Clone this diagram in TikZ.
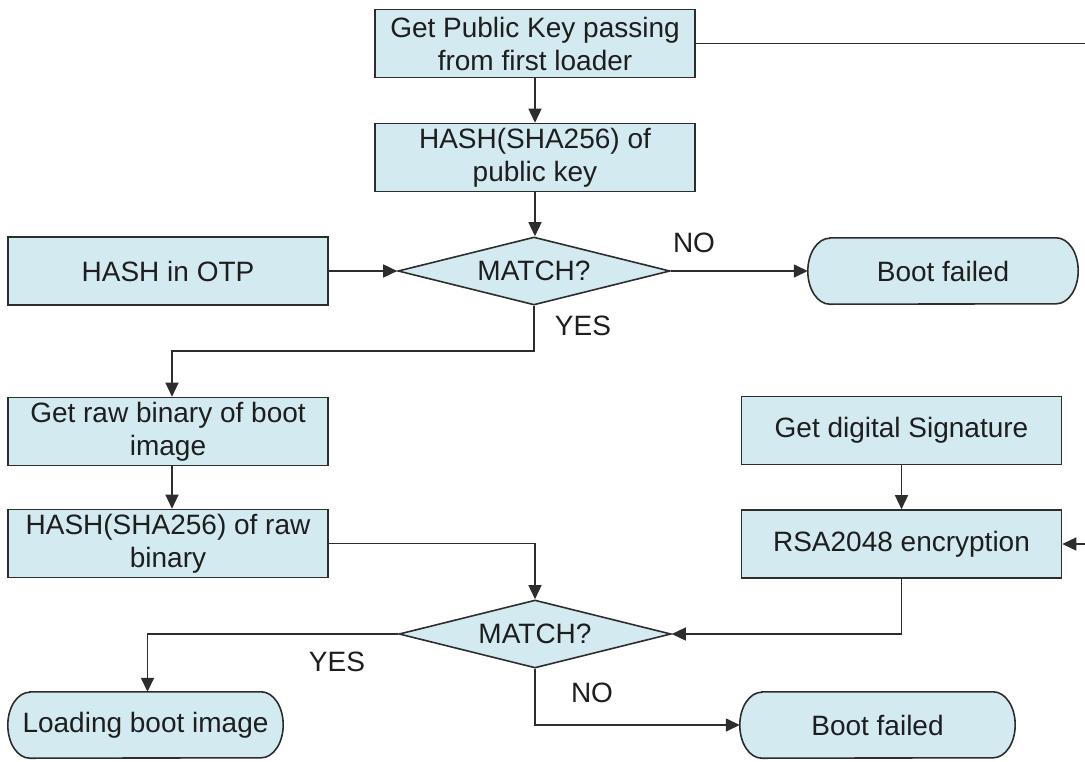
\documentclass[tikz,border=0pt]{standalone}
\usepackage{fontspec}
\setmainfont{Liberation Sans}
\usetikzlibrary{shapes.geometric,arrows.meta,backgrounds}
\definecolor{boxfill}{RGB}{210,234,240}
\definecolor{edge}{RGB}{45,45,45}
\definecolor{ink}{RGB}{30,30,30}
\tikzset{
  every node/.style={font=\fontsize{28}{33}\selectfont, text=ink},
  stepbox/.style={rectangle, draw=edge, fill=boxfill, line width=1.6pt,
    minimum width=320pt, minimum height=68pt, inner sep=0pt, align=center},
  decision/.style={diamond, aspect=4, draw=edge, fill=boxfill, line width=1.6pt,
    minimum width=272pt, minimum height=68pt, inner sep=0pt},
  termtext/.style={rectangle, draw=none, minimum height=66pt, inner sep=0pt},
  termshape/.style={draw=edge, fill=boxfill, line width=1.6pt},
  flow/.style={draw=edge, line width=1.5pt},
  arrow/.style={flow, -{Triangle[length=14pt,width=13pt]}},
  lbl/.style={inner sep=0pt}
}
% terminator with elliptical ends behind a named text node
\newcommand{\termback}[1]{%
  \path[termshape] ([xshift=22pt]#1.north west) -- ([xshift=-22pt]#1.north east)
    arc[start angle=90,end angle=-90,x radius=22pt,y radius=33pt]
    -- ([xshift=22pt]#1.south west)
    arc[start angle=270,end angle=90,x radius=22pt,y radius=33pt] -- cycle;}
\begin{document}
\begin{tikzpicture}[x=1pt,y=-1pt]
\useasboundingbox (0,0) rectangle (1085,761);

% process boxes
\node[stepbox] (pk)   at (535,43.5)  {Get Public Key passing\\from first loader};
\node[stepbox] (hpk)  at (535,157.5) {HASH(SHA256) of\\public key};
\node[stepbox] (otp)  at (168,271)   {HASH in OTP};
\node[stepbox] (raw)  at (168,431.5) {Get raw binary of boot\\image};
\node[stepbox] (hraw) at (168,543.5) {HASH(SHA256) of raw\\binary};
\node[stepbox] (sig)  at (901.5,430.5) {Get digital Signature};
\node[stepbox] (rsa)  at (901.5,544) {RSA2048 encryption};

% decisions
\node[decision] (m1) at (534,271) {MATCH?};
\node[decision] (m2) at (535,634) {MATCH?};

% terminators
\node[termtext, minimum width=270pt] (bf1)  at (943,271)   {};
\node[termtext, minimum width=275pt] (load) at (145.5,725) {};
\node[termtext, minimum width=275pt] (bf2)  at (877.5,725) {};
\begin{scope}[on background layer]
  \termback{bf1}
  \termback{load}
  \termback{bf2}
\end{scope}
\node at (bf1)  {Boot failed};
\node at (load) {Loading boot image};
\node at (bf2)  {Boot failed};

% open ends at the right margin
\coordinate (outA) at (1085,43.5);
\coordinate (inB)  at (1085,544);

% connectors
\draw[flow]  (pk.east) -- (outA);
\draw[arrow] (pk.south) -- (hpk.north);
\draw[arrow] (hpk.south) -- (hpk.south |- m1.north);
\draw[arrow] (otp.east) -- (m1.west);
\draw[arrow] (m1.east) -- (bf1.west);
\draw[arrow] (m1.south) -- ++(0,45) -| ([xshift=4pt]raw.north);
\draw[arrow] ([xshift=4pt]raw.south) -- ([xshift=4pt]hraw.north);
\draw[arrow] (hraw.east) -| (m2.north);
\draw[arrow] (sig.south) -- (rsa.north);
\draw[arrow] (inB) -- (rsa.east);
\draw[arrow] (rsa.south) |- (m2.east);
\draw[arrow] (m2.west) -| ([xshift=2pt]load.north);
\draw[arrow] (m2.south) |- (bf2.west);

% branch labels
\node[lbl] (no1)  at (694,243) {NO};
\node[lbl] (yes1) at (583,326) {YES};
\node[lbl] (yes2) at (337,662) {YES};
\node[lbl] (no2)  at (592,693) {NO};
\end{tikzpicture}
\end{document}
